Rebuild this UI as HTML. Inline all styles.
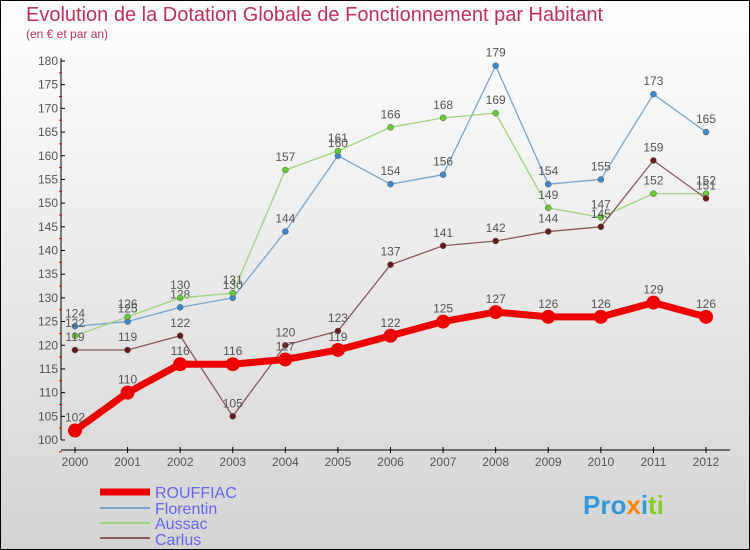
<!DOCTYPE html>
<html><head><meta charset="utf-8"><style>
body{margin:0}
svg{display:block;font-family:"Liberation Sans","DejaVu Sans",sans-serif}
</style></head><body>
<svg id="c" width="750" height="550" xmlns="http://www.w3.org/2000/svg">
<defs><linearGradient id="bg" x1="0" y1="0" x2="0" y2="1"><stop offset="0" stop-color="#ffffff"/><stop offset="1" stop-color="#d4d4d4"/></linearGradient></defs>
<rect x="0.5" y="0.5" width="749" height="549" fill="url(#bg)" stroke="#000"/>
<text x="26" y="21" font-size="20" fill="#c0305a">Evolution de la Dotation Globale de Fonctionnement par Habitant</text>
<text x="26" y="38" font-size="12" fill="#c0305a">(en € et par an)</text>
<g id="axes"></g><g id="series"></g>
<g>
<line x1="100" y1="492" x2="150" y2="492" stroke="#ee0000" stroke-width="7"/>
<text x="155" y="498" font-size="16" fill="#6666ee">ROUFFIAC</text>
<line x1="100" y1="508" x2="150" y2="508" stroke="#7aa6cc" stroke-width="2"/>
<text x="155" y="514" font-size="16" fill="#6666ee">Florentin</text>
<line x1="100" y1="523" x2="150" y2="523" stroke="#9ed47c" stroke-width="2"/>
<text x="155" y="529" font-size="16" fill="#6666ee">Aussac</text>
<line x1="100" y1="538" x2="150" y2="538" stroke="#8a5a5a" stroke-width="2"/>
<text x="155" y="545" font-size="16" fill="#6666ee">Carlus</text>
</g>
<text x="583" y="514" font-size="26" font-weight="bold" fill="#3399dd">Pro<tspan fill="#ff8800">x</tspan><tspan fill="#3399dd">i</tspan><tspan fill="#88cc22">ti</tspan></text>
</svg>
<script>
const years=[2000,2001,2002,2003,2004,2005,2006,2007,2008,2009,2010,2011,2012];
const rouffiac=[102,110,116,116,117,119,122,125,127,126,126,129,126];
const florentin=[124,125,128,130,144,160,154,156,179,154,155,173,165];
const aussac=[122,126,130,131,157,161,166,168,169,149,147,152,152];
const carlus=[119,119,122,105,120,123,137,141,142,144,145,159,151];
const yTicks=[100,105,110,115,120,125,130,135,140,145,150,155,160,165,170,175,180];
const NS="http://www.w3.org/2000/svg";
const X=i=>75+i*(706-75)/(years.length-1);
const Y=v=>440-(v-100)*(440-61)/80;
function mk(t,a,p){const e=document.createElementNS(NS,t);for(const k in a)e.setAttribute(k,a[k]);p.appendChild(e);return e;}
const ax=document.getElementById('axes');
const ya=mk('line',{x1:61,y1:58,x2:61,y2:440,stroke:'#000'},ax);


const xa=mk('line',{x1:61,y1:450,x2:730,y2:450,stroke:'#000'},ax);


yTicks.forEach(v=>{const y=Y(v);
mk('line',{x1:61,y1:y,x2:65,y2:y,stroke:'#000'},ax);
mk('line',{x1:59,y1:y+(440-61)/32,x2:62,y2:y+(440-61)/32,stroke:'#e00'},ax);
const t=mk('text',{x:58,y:y+4,'font-size':12,fill:'#555','text-anchor':'end'},ax);t.textContent=v;

});
years.forEach((yr,i)=>{const x=X(i);mk('line',{x1:x,y1:447,x2:x,y2:453,stroke:'#000'},ax);
const t=mk('text',{x:x,y:466,'font-size':12,fill:'#555','text-anchor':'middle'},ax);t.textContent=yr;

});
const sg=document.getElementById('series');
function series(name,data,col,dot,w,r){
const g=mk('g',{},sg);


mk('polyline',{points:data.map((v,i)=>X(i)+','+Y(v)).join(' '),fill:'none',stroke:col,'stroke-width':w,'stroke-linejoin':'round'},g);
data.forEach((v,i)=>{const c=mk('circle',{cx:X(i),cy:Y(v),r:r,fill:dot,stroke:w>3?'none':'#555','stroke-width':0.5},g);


const t=mk('text',{x:X(i),y:Y(v)-9,'font-size':12,fill:'#555','text-anchor':'middle'},g);t.textContent=v;

});}
series('florentin',florentin,'#7aa6cc','#3b88cc',1.3,3);
series('aussac',aussac,'#9ed47c','#66cc33',1.3,3);
series('carlus',carlus,'#8a5a5a','#661a1a',1.3,3);
series('rouffiac',rouffiac,'#ee0000','#ee0000',7,7);
</script>
</body></html>
